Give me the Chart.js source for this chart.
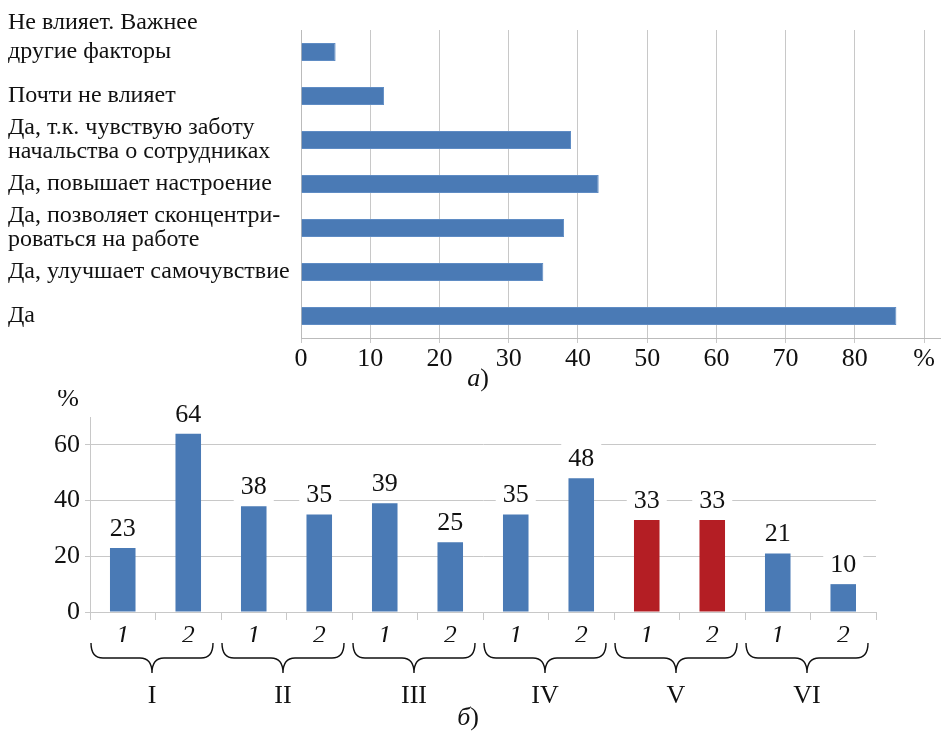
<!DOCTYPE html>
<html>
<head>
<meta charset="utf-8">
<script src="https://cdn.jsdelivr.net/npm/chart.js@4.4.1/dist/chart.umd.min.js"></script>
<style>
    body { margin: 0; background: #fff; }
    .box { position: absolute; left: 0; width: 945px; }
</style>
</head>
<body>
<div class="box" style="top:0;height:392px"><canvas id="topChart"></canvas></div>
<div class="box" style="top:390px;height:348px"><canvas id="bottomChart"></canvas></div>
<script>
// --- chart a) data ---
const answerLabels = [
    ["Не влияет. Важнее", "другие факторы", ""],
    "Почти не влияет",
    ["Да, т.к. чувствую заботу", "начальства о сотрудниках"],
    "Да, повышает настроение",
    ["Да, позволяет сконцентри-", "роваться на работе"],
    "Да, улучшает самочувствие",
    "Да"
];
const answerValues = [5, 12, 39, 43, 38, 35, 86];

// --- chart б) data ---
const subLabels = ["1", "2", "1", "2", "1", "2", "1", "2", "1", "2", "1", "2"];
const groupLabels = ["I", "II", "III", "IV", "V", "VI"];
const groupValues = [23, 64, 38, 35, 39, 25, 35, 48, 33, 33, 21, 10];
const highlightGroup = "V";

const BLUE = "#4a7ab5";
const RED = "#b41e24";
const GRID = "#c8c8c8";
const SERIF = "'Liberation Serif', 'Times New Roman', 'DejaVu Serif', serif";

Chart.defaults.font.family = SERIF;
Chart.defaults.color = "#111";

// caption like "а)" : italic letter, upright bracket
function drawCaption(ctx, letter, cx, cy) {
    ctx.save();
    ctx.textBaseline = "middle";
    ctx.fillStyle = "#111";
    ctx.font = "italic 26px " + SERIF;
    const w1 = ctx.measureText(letter).width;
    ctx.font = "26px " + SERIF;
    const w2 = ctx.measureText(")").width;
    const x0 = cx - (w1 + w2) / 2;
    ctx.font = "italic 26px " + SERIF;
    ctx.textAlign = "left";
    ctx.fillText(letter, x0, cy);
    ctx.font = "26px " + SERIF;
    ctx.fillText(")", x0 + w1, cy);
    ctx.restore();
}

const topExtras = {
    id: "topExtras",
    afterDraw(chart) {
        drawCaption(chart.ctx, "а", 478, 379);
    }
};

new Chart(document.getElementById("topChart"), {
    type: "bar",
    data: {
        labels: answerLabels,
        datasets: [{
            data: answerValues,
            backgroundColor: BLUE,
            borderColor: "#5f8cc4",
            borderWidth: 1,
            categoryPercentage: 1,
            barPercentage: 0.41
        }]
    },
    options: {
        indexAxis: "y",
        responsive: true,
        maintainAspectRatio: false,
        animation: false,
        layout: { padding: { left: 8, top: 30, right: 5, bottom: 20 } },
        plugins: { legend: { display: false }, tooltip: { enabled: false } },
        scales: {
            x: {
                min: 0,
                max: 92.3,
                grid: { color: GRID, tickLength: 5 },
                border: { color: "#bbb" },
                ticks: {
                    stepSize: 10,
                    includeBounds: false,
                    maxRotation: 0,
                    padding: 1,
                    font: { size: 26 },
                    callback: v => v === 90 ? "%" : v
                },
                afterFit: s => { s.height = 34; }
            },
            y: {
                grid: { display: false },
                border: { color: "#bbb" },
                ticks: {
                    autoSkip: false,
                    crossAlign: "far",
                    // first label sits higher, its lines spaced wider
                    font: c => ({ size: 24, lineHeight: c.index === 0 ? 1.2 : 1.0 }),
                    color: "#111"
                },
                afterFit: s => { s.width = 293; }
            }
        }
    },
    plugins: [topExtras]
});

const bottomExtras = {
    id: "bottomExtras",
    afterDatasetsDraw(chart) {
        const ctx = chart.ctx;
        const meta = chart.getDatasetMeta(0);
        ctx.save();
        ctx.font = "26px " + SERIF;
        ctx.textAlign = "center";
        ctx.textBaseline = "middle";
        meta.data.forEach((bar, i) => {
            const txt = String(groupValues[i]);
            const w = ctx.measureText(txt).width + 14;
            const h = 32;
            const cy = bar.y - 20;
            ctx.fillStyle = "#fff";
            ctx.fillRect(bar.x - w / 2, cy - h / 2, w, h);
            ctx.fillStyle = "#111";
            ctx.fillText(txt, bar.x, cy + 1);
        });
        ctx.restore();
    },
    afterDraw(chart) {
        const ctx = chart.ctx;
        const x = chart.scales.x;
        const half = (x.getPixelForValue(1) - x.getPixelForValue(0)) / 2;
        const y0 = 253, y1 = 268, y2 = 283;
        ctx.save();
        ctx.strokeStyle = "#111";
        ctx.lineWidth = 1.4;
        groupLabels.forEach((g, k) => {
            const left = x.getPixelForValue(2 * k) - half + 1;
            const right = x.getPixelForValue(2 * k + 1) + half - 8;
            const mid = (left + right) / 2;
            const r = 12;
            ctx.beginPath();
            ctx.moveTo(left, y0);
            ctx.quadraticCurveTo(left, y1, left + r, y1);
            ctx.lineTo(mid - r, y1);
            ctx.quadraticCurveTo(mid, y1, mid, y2);
            ctx.quadraticCurveTo(mid, y1, mid + r, y1);
            ctx.lineTo(right - r, y1);
            ctx.quadraticCurveTo(right, y1, right, y0);
            ctx.stroke();
            ctx.fillStyle = "#111";
            ctx.font = "26px " + SERIF;
            ctx.textAlign = "center";
            ctx.textBaseline = "middle";
            ctx.fillText(g, mid, 306);
        });
        ctx.font = "26px " + SERIF;
        ctx.textAlign = "center";
        ctx.textBaseline = "middle";
        ctx.fillText("%", 68, 9);
        ctx.restore();
        drawCaption(ctx, "б", 468, 328);
    }
};

const barColors = groupValues.map((v, i) => groupLabels[Math.floor(i / 2)] === highlightGroup ? RED : BLUE);

new Chart(document.getElementById("bottomChart"), {
    type: "bar",
    data: {
        labels: subLabels,
        datasets: [{
            data: groupValues,
            backgroundColor: barColors,
            categoryPercentage: 1,
            barPercentage: 0.39
        }]
    },
    options: {
        responsive: true,
        maintainAspectRatio: false,
        animation: false,
        layout: { padding: { left: 0, top: 27, right: 69, bottom: 96 } },
        plugins: { legend: { display: false }, tooltip: { enabled: false } },
        scales: {
            x: {
                grid: { drawOnChartArea: false, color: GRID, tickLength: 8, offset: true },
                border: { color: GRID },
                ticks: {
                    maxRotation: 0,
                    padding: 1,
                    font: { size: 26, style: "italic" }
                },
                afterFit: s => { s.height = 30; }
            },
            y: {
                min: 0,
                max: 70,
                grid: { color: GRID, tickLength: 5 },
                border: { color: GRID },
                ticks: {
                    stepSize: 10,
                    padding: 5,
                    font: { size: 26 },
                    callback: v => v % 20 === 0 ? v : ""
                },
                afterFit: s => { s.width = 90; }
            }
        }
    },
    plugins: [bottomExtras]
});
</script>
</body>
</html>
